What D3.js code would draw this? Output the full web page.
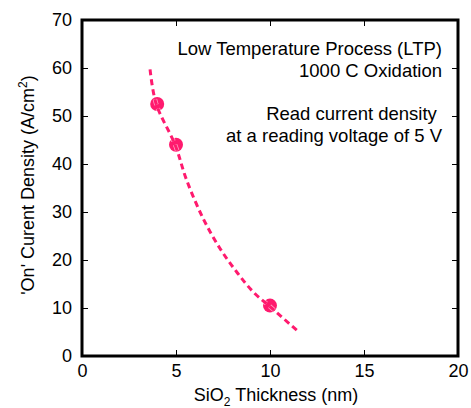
<!DOCTYPE html>
<html>
<head>
<meta charset="utf-8">
<script src="https://cdn.jsdelivr.net/npm/d3@7"></script>
<style>
  body { margin: 0; background: #fff; }
  text { font-family: "Liberation Sans", Arial, sans-serif; fill: #000; }
</style>
</head>
<body>
<svg id="chart" width="471" height="408"></svg>
<script>
// measured points
const thickness = [4, 5, 10];
const currentDensity = [52.5, 44, 10.5];

// dashed fit line
const fitThickness = [3.62, 3.94, 4.95, 5.56, 6.45, 7.34, 8.23, 9.12, 10.0, 11.5];
const fitDensity = [59.7, 52.6, 44.0, 36.7, 28.6, 22.4, 17.5, 13.3, 10.3, 5.1];

const xTicks = [0, 5, 10, 15, 20];
const yTicks = [0, 10, 20, 30, 40, 50, 60, 70];

const notes = ["Low Temperature Process (LTP)", "1000 C Oxidation", "", "Read current density\u00a0", "at a reading voltage of 5 V"];

const margin = { left: 82, top: 20, right: 13, bottom: 52 };
const svg = d3.select("#chart");
const width = 471 - margin.left - margin.right;
const height = 408 - margin.top - margin.bottom;
const pink = "#ff1a6e";

const x = d3.scaleLinear().domain([0, 20]).range([0, width]);
const y = d3.scaleLinear().domain([0, 70]).range([height, 0]);

const g = svg.append("g").attr("transform", `translate(${margin.left},${margin.top})`);

// axes, ticks pointing inward on all sides
const styleAxis = sel => {
  sel.select(".domain").remove();
  sel.selectAll(".tick line").attr("stroke", "#000").attr("stroke-width", 1);
  sel.selectAll(".tick text").style("font-size", "18px");
};

g.append("g").attr("transform", `translate(0,${height})`)
  .call(d3.axisBottom(x).tickValues(xTicks).tickSize(-6).tickPadding(8).tickFormat(d3.format("d")))
  .call(styleAxis);
g.append("g")
  .call(d3.axisLeft(y).tickValues(yTicks).tickSize(-6).tickPadding(10).tickFormat(d3.format("d")))
  .call(styleAxis);
g.append("g")
  .call(d3.axisTop(x).tickValues(xTicks).tickSize(-6).tickFormat(""))
  .call(styleAxis);
g.append("g").attr("transform", `translate(${width},0)`)
  .call(d3.axisRight(y).tickValues(yTicks).tickSize(-6).tickFormat(""))
  .call(styleAxis);

g.append("rect")
  .attr("width", width).attr("height", height)
  .attr("fill", "none").attr("stroke", "#000").attr("stroke-width", 3);

// markers
g.selectAll("circle.pt").data(thickness).join("circle")
  .attr("class", "pt")
  .attr("cx", d => x(d))
  .attr("cy", (d, i) => y(currentDensity[i]))
  .attr("r", 7)
  .attr("fill", pink);

// fit curve
const fit = fitThickness.map((d, i) => [d, fitDensity[i]]);
const line = d3.line().x(d => x(d[0])).y(d => y(d[1])).curve(d3.curveCatmullRom);
g.append("path").datum(fit)
  .attr("d", line)
  .attr("fill", "none")
  .attr("stroke", "#fff")
  .attr("stroke-width", 4.5)
  .attr("stroke-dasharray", "6,4")
  .attr("opacity", 0.6);
g.append("path").datum(fit)
  .attr("d", line)
  .attr("fill", "none")
  .attr("stroke", pink)
  .attr("stroke-width", 3)
  .attr("stroke-dasharray", "6,4");

// annotations
g.append("text")
  .attr("text-anchor", "end")
  .style("font-size", "18.5px")
  .selectAll("tspan").data(notes).join("tspan")
  .attr("x", width - 16)
  .attr("y", (d, i) => 35 + i * 21.75)
  .text(d => d);

// axis titles
const xt = svg.append("text")
  .attr("x", margin.left + width / 2 + 6)
  .attr("y", 401)
  .attr("text-anchor", "middle")
  .style("font-size", "18px");
xt.append("tspan").text("SiO");
xt.append("tspan").attr("dy", 5).style("font-size", "12px").text("2");
xt.append("tspan").attr("dy", -5).text(" Thickness (nm)");

const yt = svg.append("text")
  .attr("transform", `translate(34,185) rotate(-90)`)
  .attr("text-anchor", "middle")
  .style("font-size", "18px");
yt.append("tspan").text("'On' Curent Density (A/cm");
yt.append("tspan").attr("dy", -7).style("font-size", "12px").text("2");
yt.append("tspan").attr("dy", 7).text(")");
</script>
</body>
</html>
